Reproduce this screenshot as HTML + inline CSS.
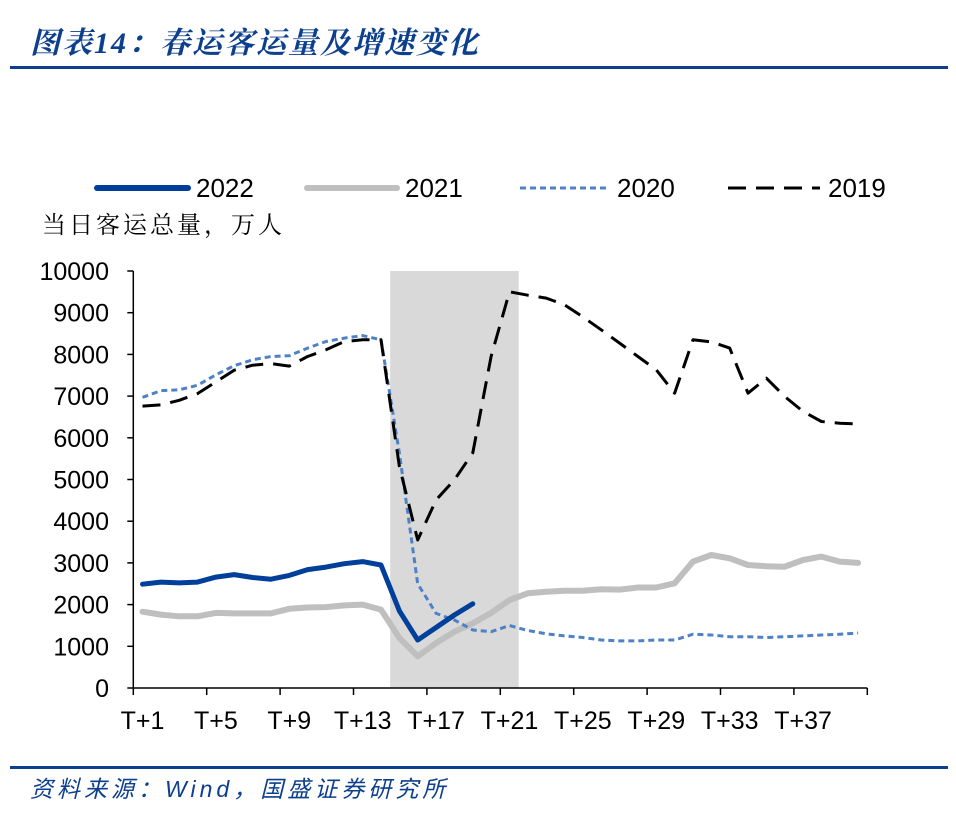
<!DOCTYPE html>
<html><head><meta charset="utf-8">
<style>
body{margin:0;background:#fff;width:956px;height:815px;overflow:hidden;font-family:"Liberation Sans","Noto Sans CJK SC",sans-serif;}
#title{position:absolute;left:30px;top:18px;font-size:30px;letter-spacing:2px;font-weight:bold;font-style:italic;color:#0d3f8f;font-family:"Liberation Serif","Noto Serif CJK SC",serif;white-space:nowrap;}
.rule{position:absolute;left:10px;width:938px;height:3px;background:#0d3f8f;}
#src{position:absolute;left:30px;top:770px;font-size:23px;letter-spacing:4px;font-style:italic;color:#0d3f8f;white-space:nowrap;}
</style></head><body>
<div id="title">图表14：春运客运量及增速变化</div>
<div class="rule" style="top:66px"></div>
<div class="rule" style="top:766px"></div>
<div id="src">资料来源：Wind，国盛证券研究所</div>
<svg id="chart" width="956" height="815" style="position:absolute;left:0;top:0"></svg>
<script>
const categories = Array.from({length:40},(_,i)=>'T+'+(i+1));
const xTickLabels = ['T+1','T+5','T+9','T+13','T+17','T+21','T+25','T+29','T+33','T+37'];
const yTicks = [0,1000,2000,3000,4000,5000,6000,7000,8000,9000,10000];
const shadeRange = [15,21];
const s2022 = [2490,2540,2520,2540,2660,2720,2650,2610,2700,2840,2900,2980,3030,2950,1850,1150,1450,1750,2020];
const s2021 = [1830,1760,1720,1720,1800,1790,1790,1790,1900,1930,1940,1980,2000,1880,1200,760,1080,1350,1550,1800,2110,2270,2310,2330,2330,2370,2360,2410,2410,2510,3030,3190,3110,2950,2920,2910,3070,3150,3030,3000];
const s2020 = [6970,7130,7150,7260,7510,7730,7870,7950,7970,8150,8310,8390,8450,8350,5630,2500,1790,1630,1390,1350,1500,1380,1300,1250,1210,1150,1130,1130,1150,1150,1290,1270,1230,1230,1210,1230,1250,1270,1290,1320];
const s2019 = [6760,6790,6900,7060,7340,7620,7740,7780,7720,7950,8110,8310,8350,8350,5310,3550,4510,4990,5640,7950,9500,9420,9350,9190,8900,8590,8270,7950,7630,7070,8350,8300,8150,7070,7430,6990,6630,6390,6350,6330];

const X0=133.3, CW=18.35, Y0=688, YS=41.7/1000;
const xEdge = i => X0 + i*CW;
const xc = i => X0 + (i+0.5)*CW;
const y = v => Y0 - v*YS;
const NS='http://www.w3.org/2000/svg';
const svg=document.getElementById('chart');
function mk(tag,attrs,parent){const e=document.createElementNS(NS,tag);for(const k in attrs)e.setAttribute(k,attrs[k]);(parent||svg).appendChild(e);return e;}

const sh=mk('rect',{x:xEdge(shadeRange[0]-1),y:y(10000),width:xEdge(shadeRange[1])-xEdge(shadeRange[0]-1),height:y(0)-y(10000),fill:'#d9d9d9'});



const ya=mk('line',{x1:X0,x2:X0,y1:y(0),y2:y(10000),stroke:'#000','stroke-width':1.5});


yTicks.forEach(v=>{
  mk('line',{x1:X0-6,x2:X0,y1:y(v),y2:y(v),stroke:'#000','stroke-width':1.5});
  const t=mk('text',{x:109,y:y(v)+9,'text-anchor':'end','font-size':25,fill:'#000'});
  t.textContent=v;
  
  
});
const xa=mk('line',{x1:X0,x2:xEdge(categories.length),y1:y(0),y2:y(0),stroke:'#000','stroke-width':1.5});


for(let i=0;i<=categories.length;i+=4){
  mk('line',{x1:xEdge(i),x2:xEdge(i),y1:y(0),y2:y(0)+7,stroke:'#000','stroke-width':1.5});
}
xTickLabels.forEach(l=>{
  const i=categories.indexOf(l);
  const t=mk('text',{x:xc(i),y:729,'text-anchor':'middle','font-size':25,fill:'#000'});
  t.textContent=l;
  
  
});
const ut=mk('text',{x:42,y:233,'font-size':24,'letter-spacing':3,fill:'#000','font-family':'"Liberation Serif","Noto Serif CJK SC",serif'});
ut.textContent='当日客运总量，万人';



const styles=[
 {name:'2021',data:s2021,stroke:'#bfbfbf',w:6,dash:''},
 {name:'2020',data:s2020,stroke:'#4f81c7',w:3,dash:'6 4'},
 {name:'2019',data:s2019,stroke:'#000',w:3,dash:'18 10'},
 {name:'2022',data:s2022,stroke:'#003f9a',w:5,dash:''}
];
styles.forEach(s=>{
  const d=s.data.map((v,i)=>(i?'L':'M')+xc(i).toFixed(1)+' '+y(v).toFixed(1)).join(' ');
  const p=mk('path',{d:d,fill:'none',stroke:s.stroke,'stroke-width':s.w,'stroke-dasharray':s.dash,'stroke-linejoin':'round','stroke-linecap':s.dash?'butt':'round'});
  
  
});

const leg=[
 {name:'2022',x1:97,x2:188,stroke:'#003f9a',w:6,dash:''},
 {name:'2021',x1:307,x2:397,stroke:'#bfbfbf',w:6,dash:''},
 {name:'2020',x1:520,x2:609,stroke:'#4f81c7',w:3,dash:'6 4'},
 {name:'2019',x1:728,x2:820,stroke:'#000',w:3,dash:'18 10'}
];
leg.forEach(l=>{
  const g=mk('g',{});
  
  
  mk('line',{x1:l.x1,x2:l.x2,y1:188,y2:188,stroke:l.stroke,'stroke-width':l.w,'stroke-dasharray':l.dash,'stroke-linecap':l.dash?'butt':'round'},g);
  const t=mk('text',{x:l.x2+8,y:197,'font-size':26,fill:'#000'},g);
  t.textContent=l.name;
});
</script>
</body></html>
